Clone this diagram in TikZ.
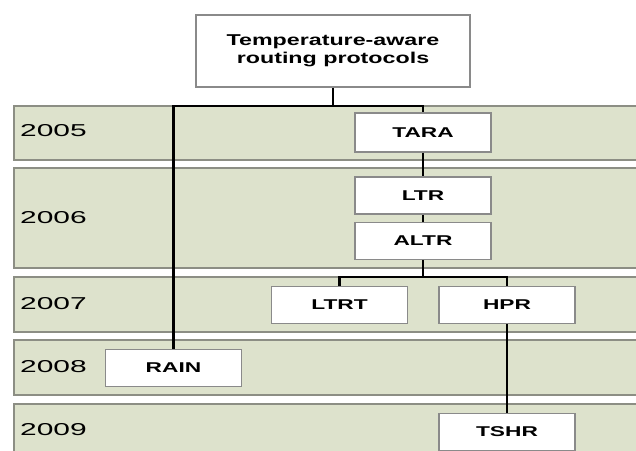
\documentclass[tikz,border=0pt]{standalone}
\usepackage{fontspec}
\setmainfont{Liberation Sans}
\usepackage{graphicx}
\definecolor{bandfill}{HTML}{DDE2CC}
\definecolor{bandline}{HTML}{8C8E84}
\definecolor{boxline}{HTML}{8A8A8A}
\begin{document}
\begin{tikzpicture}[x=1pt,y=-1pt,
  band/.style={fill=bandfill,draw=bandline,line width=1.3pt},
  pbox/.style={draw=boxline,fill=white,line width=1.2pt,inner sep=0pt,
    minimum width=136pt,minimum height=37pt,
    font=\fontsize{14.2}{16}\selectfont\bfseries},
  yearlbl/.style={anchor=west,inner sep=0pt,font=\fontsize{17.2}{20}\selectfont},
  conn/.style={draw=black,line width=2.7pt}]
\useasboundingbox (0,0) rectangle (636,450);
\clip (0,0) rectangle (636,450);
% bands
\draw[band] (14,106) rectangle (645,160);
\draw[band] (14,168) rectangle (645,268);
\draw[band] (14,277) rectangle (645,332);
\draw[band] (14,340) rectangle (645,395);
\draw[band] (14,404) rectangle (645,470);
% year labels
\node[yearlbl] (y2005) at (20,131) {\scalebox{1.74}[1]{2005}};
\node[yearlbl] (y2006) at (20,218) {\scalebox{1.74}[1]{2006}};
\node[yearlbl] (y2007) at (20,304) {\scalebox{1.74}[1]{2007}};
\node[yearlbl] (y2008) at (20,367) {\scalebox{1.74}[1]{2008}};
\node[yearlbl] (y2009) at (20,430) {\scalebox{1.74}[1]{2009}};
% boxes
\node[pbox,minimum width=274pt,minimum height=72pt,align=center,
  font=\fontsize{15.7}{17.5}\selectfont\bfseries] (top) at (333,51)
  {\scalebox{1.48}[1]{Temperature-aware}\\\scalebox{1.48}[1]{routing protocols}};
\node[pbox,minimum height=39pt] (TARA) at (423,132.5) {\scalebox{1.6}[1]{TARA}};
\node[pbox] (LTR) at (423,195.5) {\scalebox{1.6}[1]{LTR}};
\node[pbox] (ALTR) at (423,241) {\scalebox{1.6}[1]{ALTR}};
\node[pbox] (LTRT) at (339.5,305) {\scalebox{1.6}[1]{LTRT}};
\node[pbox] (HPR) at (507,305) {\scalebox{1.6}[1]{HPR}};
\node[pbox] (RAIN) at (173.5,368) {\scalebox{1.6}[1]{RAIN}};
\node[pbox] (TSHR) at (507,432) {\scalebox{1.6}[1]{TSHR}};
% connectors
\coordinate (jL) at (173.5,106);
\coordinate (jR) at (423,106);
\coordinate (k) at (423,277);
\draw[conn] (top.south) -- (top.south |- jL);
\draw[conn] (RAIN.north) -- (jL) -- (jR) -- (TARA.north);
\draw[conn] (TARA.south) -- (LTR.north);
\draw[conn] (LTR.south) -- (ALTR.north);
\draw[conn] (ALTR.south) -- (k);
\draw[conn] (LTRT.north) -- (LTRT.north |- k) -- (HPR.north |- k) -- (HPR.north);
\draw[conn] (HPR.south) -- (TSHR.north);
\end{tikzpicture}
\end{document}
